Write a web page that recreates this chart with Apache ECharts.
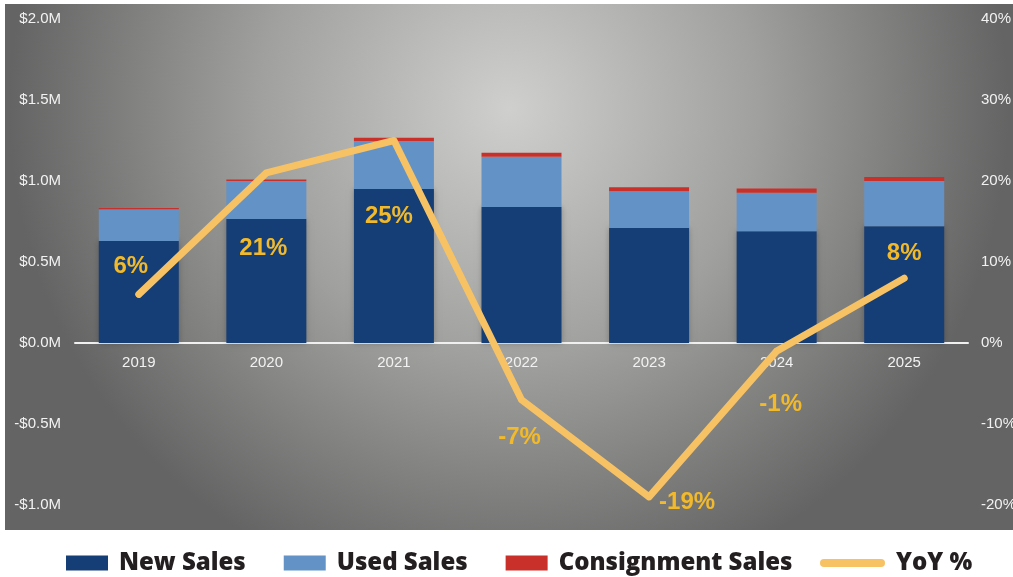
<!DOCTYPE html>
<html>
<head>
<meta charset="utf-8">
<style>
  html, body { margin: 0; padding: 0; background: #ffffff; }
  #chart { width: 1013px; height: 577px; }
</style>
<script src="https://cdn.jsdelivr.net/npm/echarts@6/dist/echarts.min.js"></script>
</head>
<body>
<div id="chart"></div>
<script>
// Annual sales by channel ($M) with year-over-year growth (%)
const years = ['2019', '2020', '2021', '2022', '2023', '2024', '2025'];
const newSales = [0.63, 0.765, 0.95, 0.84, 0.71, 0.69, 0.72];
const usedSales = [0.195, 0.235, 0.297, 0.31, 0.226, 0.237, 0.28];
const consignmentSales = [0.008, 0.01, 0.02, 0.025, 0.025, 0.026, 0.025];
const yoyPct = [6, 21, 25, -7, -19, -1, 8];

// Where each growth label sits relative to its point (px)
const yoyLabelOffsets = [[-8, -28], [-3, 75], [-5, 76], [-2, 38], [38, 5], [4, 53], [0, -25]];

const chart = echarts.init(document.getElementById('chart'));

const GRID = { left: 75, right: 45, top: 19, bottom: 72, outerBoundsMode: 'none' };
const Y_MIN = -1, Y_MAX = 2;
// Lift the category axis (line and year labels) up to the zero line
const plotHeight = 577 - GRID.top - GRID.bottom;
const zeroLift = plotHeight * (0 - Y_MIN) / (Y_MAX - Y_MIN);

const axisText = { color: '#f2f2f2', fontSize: 15, fontFamily: 'Liberation Sans, Arial, sans-serif' };
const legendText = { color: '#231f20', fontSize: 24, fontWeight: 800, fontFamily: 'Open Sans, sans-serif', padding: [0, 0, 0, 6] };

function money(v) {
  const s = '$' + Math.abs(v).toFixed(1) + 'M';
  return v < 0 ? '-' + s : s;
}

chart.setOption({
  animation: false,
  graphic: [{
    type: 'rect',
    z: -10,
    silent: true,
    shape: { x: 5, y: 4, width: 1008, height: 526 },
    style: {
      fill: new echarts.graphic.RadialGradient(0.5, 0.2, 0.95, [
        { offset: 0, color: '#cfcfcd' },
        { offset: 0.5, color: '#a0a09e' },
        { offset: 1, color: '#646464' }
      ])
    }
  }],
  grid: GRID,
  legend: [{
    left: 66,
    top: 551,
    padding: 0,
    itemWidth: 42,
    itemHeight: 15,
    itemGap: 38,
    icon: 'rect',
    data: ['New Sales', 'Used Sales', 'Consignment Sales'],
    textStyle: legendText
  }, {
    left: 820,
    top: 551,
    padding: 0,
    itemWidth: 65,
    itemHeight: 8,
    icon: 'path://M4,0 H61 A4,4 0 0 1 61,8 H4 A4,4 0 0 1 4,0 Z',
    data: ['YoY %'],
    textStyle: legendText
  }],
  xAxis: {
    type: 'category',
    data: years,
    offset: -zeroLift,
    axisLine: { onZero: false, lineStyle: { color: '#f0f0f0', width: 2 } },
    axisTick: { show: false },
    axisLabel: Object.assign({ margin: 12 }, axisText),
    splitLine: { show: false }
  },
  yAxis: [{
    type: 'value',
    min: Y_MIN, max: Y_MAX, interval: 0.5,
    axisLine: { show: false },
    axisTick: { show: false },
    splitLine: { show: false },
    axisLabel: Object.assign({ margin: 14, formatter: money }, axisText)
  }, {
    type: 'value',
    min: -20, max: 40, interval: 10,
    position: 'right',
    axisLine: { show: false },
    axisTick: { show: false },
    splitLine: { show: false },
    axisLabel: Object.assign({ margin: 13, formatter: v => v + '%' }, axisText)
  }],
  series: [{
    name: 'New Sales',
    type: 'bar',
    stack: 'sales',
    barWidth: 80,
    data: newSales,
    itemStyle: { color: '#163e76', shadowBlur: 6, shadowColor: 'rgba(0,0,0,0.25)' }
  }, {
    name: 'Used Sales',
    type: 'bar',
    stack: 'sales',
    data: usedSales,
    itemStyle: { color: '#6393c6' }
  }, {
    name: 'Consignment Sales',
    type: 'bar',
    stack: 'sales',
    data: consignmentSales,
    itemStyle: { color: '#c9302a' }
  }, {
    name: 'YoY %',
    type: 'line',
    yAxisIndex: 1,
    z: 5,
    data: yoyPct.map((v, i) => ({ value: v, label: { offset: yoyLabelOffsets[i] } })),
    symbol: 'circle',
    symbolSize: 6,
    lineStyle: { color: '#f7c264', width: 7, cap: 'round', join: 'round' },
    itemStyle: { color: '#f7c264' },
    label: {
      show: true,
      position: 'inside',
      formatter: p => p.value + '%',
      color: '#f2ba2a',
      fontSize: 24,
      fontWeight: 'bold',
      fontFamily: 'Liberation Sans, Arial, sans-serif'
    }
  }]
});
</script>
</body>
</html>
